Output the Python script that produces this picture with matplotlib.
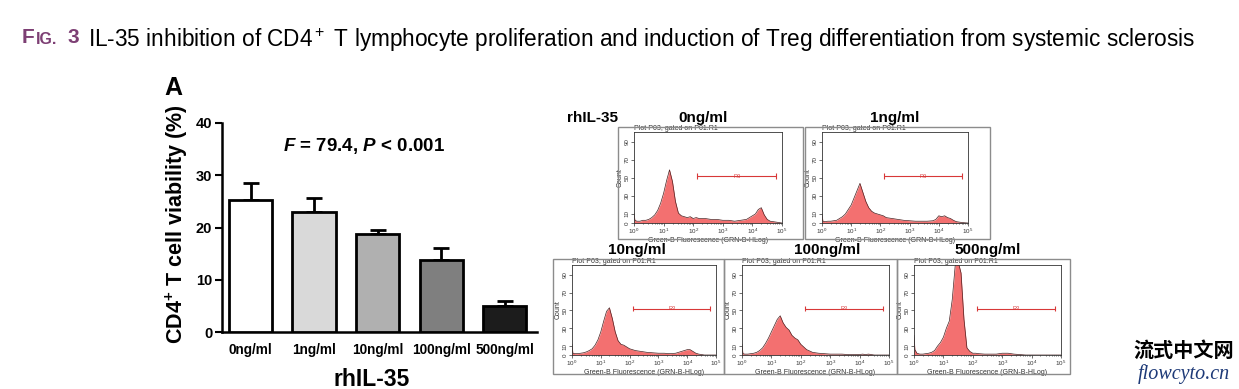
import numpy as np
import matplotlib.pyplot as plt
from matplotlib.patches import Rectangle

plt.rcParams['font.family'] = ['Liberation Sans', 'DejaVu Sans']
plt.rcParams['mathtext.fontset'] = 'custom'
plt.rcParams['mathtext.rm'] = 'Liberation Sans'
plt.rcParams['mathtext.it'] = 'Liberation Sans:italic:bold'
plt.rcParams['mathtext.bf'] = 'Liberation Sans:bold'

W, H = 1239, 389

# panel A: bar chart
doses = ['0ng/ml', '1ng/ml', '10ng/ml', '100ng/ml', '500ng/ml']
viability = [25.3, 23.0, 18.7, 13.8, 4.9]
viability_sd = [3.3, 2.7, 0.8, 2.3, 1.0]
bar_colors = ['#ffffff', '#d9d9d9', '#b0b0b0', '#7f7f7f', '#1c1c1c']

# flow histograms: log10 fluorescence grid and counts per dose
log_fl = [0.0, 0.03, 0.1, 0.2, 0.3, 0.4, 0.5, 0.6, 0.7, 0.8, 0.9, 1.0, 1.1, 1.2, 1.3,
          1.4, 1.5, 1.6, 1.7, 1.8, 1.9, 2.0, 2.1, 2.2, 2.4, 2.6, 2.8, 3.0, 3.2, 3.4,
          3.6, 3.8, 3.9, 4.0, 4.1, 4.2, 4.3, 4.4, 4.5, 4.6, 4.8, 5.0]
counts_0 = [11, 3, 2, 2, 3, 3, 4, 6, 9, 14, 22, 33, 47, 59, 46,
            24, 11, 8, 7, 6, 7, 5, 6, 5, 5, 4, 4, 3, 3, 2,
            3, 4, 6, 8, 10, 15, 17, 9, 4, 2, 1, 0]
counts_1 = [10, 2, 1.5, 2, 2, 2.5, 3, 5, 7, 10, 15, 20, 28, 36, 44,
            34, 24, 17, 13, 11, 10, 9, 8, 6, 5, 4, 3, 2.5, 2, 2,
            2, 2.5, 4, 8, 7, 8, 6, 5, 3, 1.5, 0.5, 0]
counts_10 = [12, 2, 1.5, 1.5, 2, 2.5, 3.5, 5, 7, 11, 17, 26, 38, 49, 53,
             41, 26, 16, 12, 11, 9, 7, 6, 5, 4, 3, 2.5, 2, 2, 1.5,
             2, 4, 5, 6, 6, 4, 2, 1, 0.5, 0, 0, 0]
counts_100 = [12, 1.5, 1, 1, 1.5, 2, 3, 5, 8, 13, 19, 26, 33, 40, 44,
              36, 31, 28, 22, 19, 17, 12, 9, 6, 3, 2, 1.5, 1, 1, 1,
              0.5, 0.5, 0.5, 0.5, 1, 0.5, 1, 0.5, 0, 0, 0, 0]
counts_500 = [22, 6, 2, 1, 1, 1.5, 2, 3, 5, 10, 14, 20, 30, 38, 62,
              100, 105, 92, 40, 8, 4, 2, 2, 1.5, 1, 1, 1, 2, 2, 1,
              0.5, 0, 0, 0, 0, 0, 0, 0, 0, 0, 0, 0]
gate_lo, gate_hi, gate_y = 2.13, 4.8, 52

fig = plt.figure(figsize=(W / 100, H / 100), dpi=100)


def px_rect(x0, y0, x1, y1):
    return [x0 / W, 1 - y1 / H, (x1 - x0) / W, (y1 - y0) / H]


# title
purple = '#7d3f74'
t_f = fig.text(22 / W, 1 - 47 / H, 'F', color=purple, fontsize=15, fontweight='bold',
               va='bottom')
fig.add_artist(plt.Annotation('IG.', xy=(1, 0), xycoords=t_f, xytext=(0.5, 0),
                              textcoords='offset points', color=purple, fontsize=11.5,
                              fontweight='bold', va='bottom'))
fig.text(67 / W, 1 - 47 / H, '3', color=purple, fontsize=15, fontweight='bold', va='bottom')
fig.text(88 / W, 1 - 47 / H,
         r'IL-35 inhibition of CD4$^+$ T lymphocyte proliferation and induction of Treg '
         'differentiation from systemic sclerosis', fontsize=16.3)

# panel A
ax = fig.add_axes(px_rect(222, 123, 537, 332))
x = np.arange(len(doses))
ax.bar(x, viability, width=0.68, color=bar_colors, edgecolor='black', linewidth=2, zorder=3)
ax.errorbar(x, viability, yerr=[np.zeros(len(x)), viability_sd], fmt='none', ecolor='black',
            elinewidth=2, capsize=6, capthick=2, zorder=2)
ax.set_xlim(-0.45, 4.51)
ax.set_ylim(0, 40)
ax.spines[['top', 'right']].set_visible(False)
ax.spines[['left', 'bottom']].set_linewidth(1.8)
ax.set_yticks([0, 10, 20, 30, 40])
ax.tick_params(axis='y', length=5, width=1.5, labelsize=10.5, pad=2)
ax.set_xticks(x)
ax.set_xticklabels(doses, fontweight='bold', fontsize=9.8)
ax.tick_params(axis='x', length=0, pad=8)
for t in ax.get_yticklabels():
    t.set_fontweight('bold')
ax.set_xlabel('rhIL-35', fontsize=16.5, fontweight='bold', labelpad=0)
ax.xaxis.set_label_coords(0.476, -0.17)
ax.set_ylabel(r'CD4$^{\mathbf{+}}$ T cell viability (%)', fontsize=15.5, fontweight='bold')
ax.yaxis.set_label_coords(-0.1, 0.515)
ax.text(0.45, 0.89, r'$F$ = 79.4, $P$ < 0.001', transform=ax.transAxes, ha='center', va='center',
        fontsize=13.5, fontweight='bold')
fig.text(164 / W, 1 - 95 / H, 'A', fontsize=18, fontweight='bold')

# flow panels
xs = 10 ** np.array(log_fl)


def flow_panel(box, inner, counts):
    bx0, by0, bx1, by1 = box
    fig.add_artist(Rectangle((bx0 / W, 1 - by1 / H), (bx1 - bx0) / W, (by1 - by0) / H,
                             transform=fig.transFigure, fill=False, edgecolor='#8c8c8c', lw=1))
    a = fig.add_axes(px_rect(*inner))
    a.fill_between(xs, counts, color='#f37070', lw=0)
    a.plot(xs, counts, color='#4a2020', lw=0.5)
    a.set_xscale('log')
    a.set_xlim(1, 1e5)
    a.set_ylim(0, 101)
    a.set_xticks([1, 10, 100, 1e3, 1e4, 1e5])
    a.set_xticklabels([r'$10^{%d}$' % i for i in range(6)])
    a.set_yticks([0, 10, 30, 50, 70, 90])
    a.set_yticklabels(['0', '10', '30', '50', '70', '90'], rotation=90, va='center')
    a.tick_params(labelsize=4.5, length=2, width=0.5, pad=1, colors='#333333')
    a.tick_params(which='minor', length=1, width=0.4)
    for s in a.spines.values():
        s.set_linewidth(0.6)
        s.set_color('#333333')
    a.set_xlabel('Green-B Fluorescence (GRN-B-HLog)', fontsize=5, labelpad=0.5, color='#333333')
    a.set_ylabel('Count', fontsize=5, labelpad=1, color='#333333')
    a.set_title('Plot P03, gated on P01.R1', fontsize=5, loc='left', pad=0.8, color='#333333')
    a.hlines(gate_y, 10 ** gate_lo, 10 ** gate_hi, color='#d83838', lw=0.8)
    a.vlines([10 ** gate_lo, 10 ** gate_hi], gate_y - 3, gate_y + 3, color='#d83838', lw=0.8)
    a.text(10 ** ((gate_lo + gate_hi) / 2), gate_y, 'R3', fontsize=4, color='#d83838',
           ha='center', va='center')
    return a


flow_panel((618, 127, 803, 239), (634, 132, 782, 223), counts_0)
flow_panel((805, 127, 990, 239), (822, 132, 968, 223), counts_1)
flow_panel((553, 259, 724, 374), (572, 265, 716, 355), counts_10)
flow_panel((724, 259, 897, 374), (742, 265, 889, 355), counts_100)
flow_panel((897, 259, 1070, 374), (914, 265, 1061, 355), counts_500)

panel_titles = [('rhIL-35', 593, 118), ('0ng/ml', 703, 118), ('1ng/ml', 895, 118),
                ('10ng/ml', 637, 250), ('100ng/ml', 827, 250), ('500ng/ml', 988, 250)]
for txt, px, py in panel_titles:
    fig.text(px / W, 1 - py / H, txt, fontsize=11, fontweight='bold', ha='center', va='center')

# watermark
fig.text(1184 / W, 1 - 350 / H, '流式中文网', fontsize=14.5, fontweight='bold',
         family=['Noto Sans CJK SC', 'DejaVu Sans'], ha='center', va='center')
fig.text(1184 / W, 1 - 374 / H, 'flowcyto.cn', fontsize=14.5, style='italic', color='#1e3a78',
         family=['Liberation Serif', 'DejaVu Serif'], ha='center', va='center')

fig.savefig('out.png', dpi=100)
